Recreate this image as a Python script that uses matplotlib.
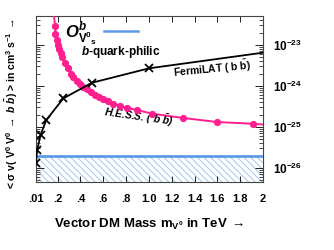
import math
import matplotlib
matplotlib.use("Agg")
import matplotlib.pyplot as plt
from matplotlib.ticker import LogLocator, NullFormatter, FixedLocator, FixedFormatter

plt.rcParams['font.family'] = ['Liberation Sans', 'DejaVu Sans']
plt.rcParams['font.weight'] = 'bold'
plt.rcParams['mathtext.fontset'] = 'custom'
plt.rcParams['mathtext.rm'] = 'Liberation Sans:bold'
plt.rcParams['mathtext.bf'] = 'Liberation Sans:bold'
plt.rcParams['mathtext.it'] = 'Liberation Sans:italic:bold'
plt.rcParams['mathtext.bfit'] = 'Liberation Sans:italic:bold'
plt.rcParams['hatch.linewidth'] = 0.7
plt.rcParams['hatch.color'] = '#a4c6f0'

# ---- data ----
fermi_mass = [0.01, 0.02, 0.05, 0.1, 0.25, 0.5, 1.0, 2.0]
fermi_sv = [1.35e-26, 2.75e-26, 6.4e-26, 1.48e-25, 5.0e-25, 1.2e-24, 2.7e-24, 6.5e-24]
fermi_marked = [True, True, True, True, True, True, True, False]

hess_mass = [0.165, 0.177, 0.179, 0.192, 0.203, 0.214, 0.229, 0.242, 0.264, 0.291,
             0.314, 0.337, 0.367, 0.396, 0.425, 0.457, 0.492, 0.528, 0.565,
             0.600, 0.644, 0.688, 0.747, 0.806, 0.893, 1.030, 1.302, 1.600,
             1.916, 2.0]
hess_sv = [6.0e-23, 2.96e-23, 1.85e-23, 1.32e-23, 1.0e-23, 7.98e-24, 6.28e-24,
           5.09e-24, 3.74e-24, 2.70e-24, 2.0e-24, 1.63e-24, 1.32e-24, 1.12e-24,
           9.6e-25, 8.3e-25, 7.0e-25, 6.0e-25, 5.3e-25, 4.74e-25, 4.24e-25,
           3.70e-25, 3.25e-25, 2.96e-25, 2.60e-25, 2.11e-25, 1.66e-25, 1.32e-25,
           1.20e-25, 1.15e-25]

band_level = 2.0e-26
x_range = [0.01, 2.0]

xticks = [0.01, 0.2, 0.4, 0.6, 0.8, 1.0, 1.2, 1.4, 1.6, 1.8, 2.0]
xticklabels = ['.01', '.2', '.4', '.6', '.8', '1.0', '1.2', '1.4', '1.6', '1.8', '2']
yticks = [1e-26, 1e-25, 1e-24, 1e-23]
ylim = (4.56e-27, 5.1e-23)

# ---- figure ----
fig = plt.figure(figsize=(3.34, 2.5), dpi=100)
ax = fig.add_axes([36/334, 68/250, 227/334, 166/250])
ax.set_yscale('log')
ax.set_xlim(x_range)
ax.set_ylim(ylim)

# excluded band
ax.fill_between(x_range, [ylim[0]]*2, [band_level]*2, facecolor='white',
                edgecolor='#a4c6f0', hatch='\\\\\\\\\\', linewidth=0, zorder=1)
ax.axhline(band_level, color='#5d9aea', lw=2.0, zorder=2)

pink = '#ff1f8e'
ax.plot(hess_mass, hess_sv, color=pink, lw=1.4, zorder=3)
ax.plot(hess_mass[1:-1], hess_sv[1:-1], 'o', color=pink, ms=4.2, zorder=4)

ax.plot(fermi_mass, fermi_sv, color='black', lw=1.3, zorder=5)
mx = [m for m, k in zip(fermi_mass, fermi_marked) if k]
my = [v for v, k in zip(fermi_sv, fermi_marked) if k]
ax.plot(mx, my, 'x', color='black', ms=5.5, mew=1.3, zorder=6)

# ticks
ax.xaxis.set_major_locator(FixedLocator(xticks))
ax.xaxis.set_major_formatter(FixedFormatter(xticklabels))
ax.yaxis.set_major_locator(FixedLocator(yticks))
ax.yaxis.set_major_formatter(
    FixedFormatter([r'$\mathbf{10^{%d}}$' % round(math.log10(v)) for v in yticks]))
ax.yaxis.set_minor_locator(LogLocator(base=10, subs=range(2, 10), numticks=50))
ax.yaxis.set_minor_formatter(NullFormatter())
ax.tick_params(axis='both', which='both', direction='in', top=True, right=True,
               left=True, bottom=True, labelleft=False, labelright=True)
ax.tick_params(axis='x', which='major', length=4, width=0.6, pad=9, labelsize=8)
ax.tick_params(axis='y', which='major', length=6, width=0.6, pad=7, labelsize=8.5)
ax.tick_params(axis='y', which='minor', length=3, width=0.5)
for s in ax.spines.values():
    s.set_linewidth(0.8)
    s.set_color('#444444')

# labels
ax.set_xlabel(r'Vector DM Mass m$_{\mathbf{V^0}}$ in TeV $\rightarrow$', fontsize=9.5,
              fontweight='bold', labelpad=9)
fig.text(12/334, 1 - 103/250,
         r'< $\mathbf{\sigma}$ v( V$^{\mathbf{0}}$ V$^{\mathbf{0}}$ $\rightarrow$ $\mathbfit{b}$ $\bar{\mathbfit{b}}$) > in cm$^{\mathbf{3}}$ s$^{\mathbf{-1}}$ $\rightarrow$',
         rotation=90, ha='center', va='center', fontsize=7.5, fontweight='bold')

# legend / annotations
ax.text(0.128, 0.90, r'$\mathbfit{O}^{\mathbfit{b}}_{\mathbf{V^0{}_s}}$', transform=ax.transAxes,
        fontsize=12, ha='left', va='center')
ax.plot([0.30, 0.449], [0.911, 0.911], color='#5d9aea', lw=1.8, transform=ax.transAxes)
ax.text(0.197, 0.783, r'$\mathbfit{b}$-quark-philic', transform=ax.transAxes,
        fontsize=8.5, ha='left', va='center', fontweight='bold')
ax.text(0.775, 0.681, r'FermiLAT ( b $\bar{\mathbf{b}}$)', transform=ax.transAxes,
        fontsize=7.5, ha='center', va='center', rotation=5.5, fontweight='bold')
ax.text(0.454, 0.395, r'H.E.S.S. ( $\mathbfit{b}$ $\bar{\mathbfit{b}}$)', transform=ax.transAxes,
        fontsize=7.5, ha='center', va='center', rotation=-8, fontweight='bold', style='italic')

fig.savefig('out.png', dpi=100)
